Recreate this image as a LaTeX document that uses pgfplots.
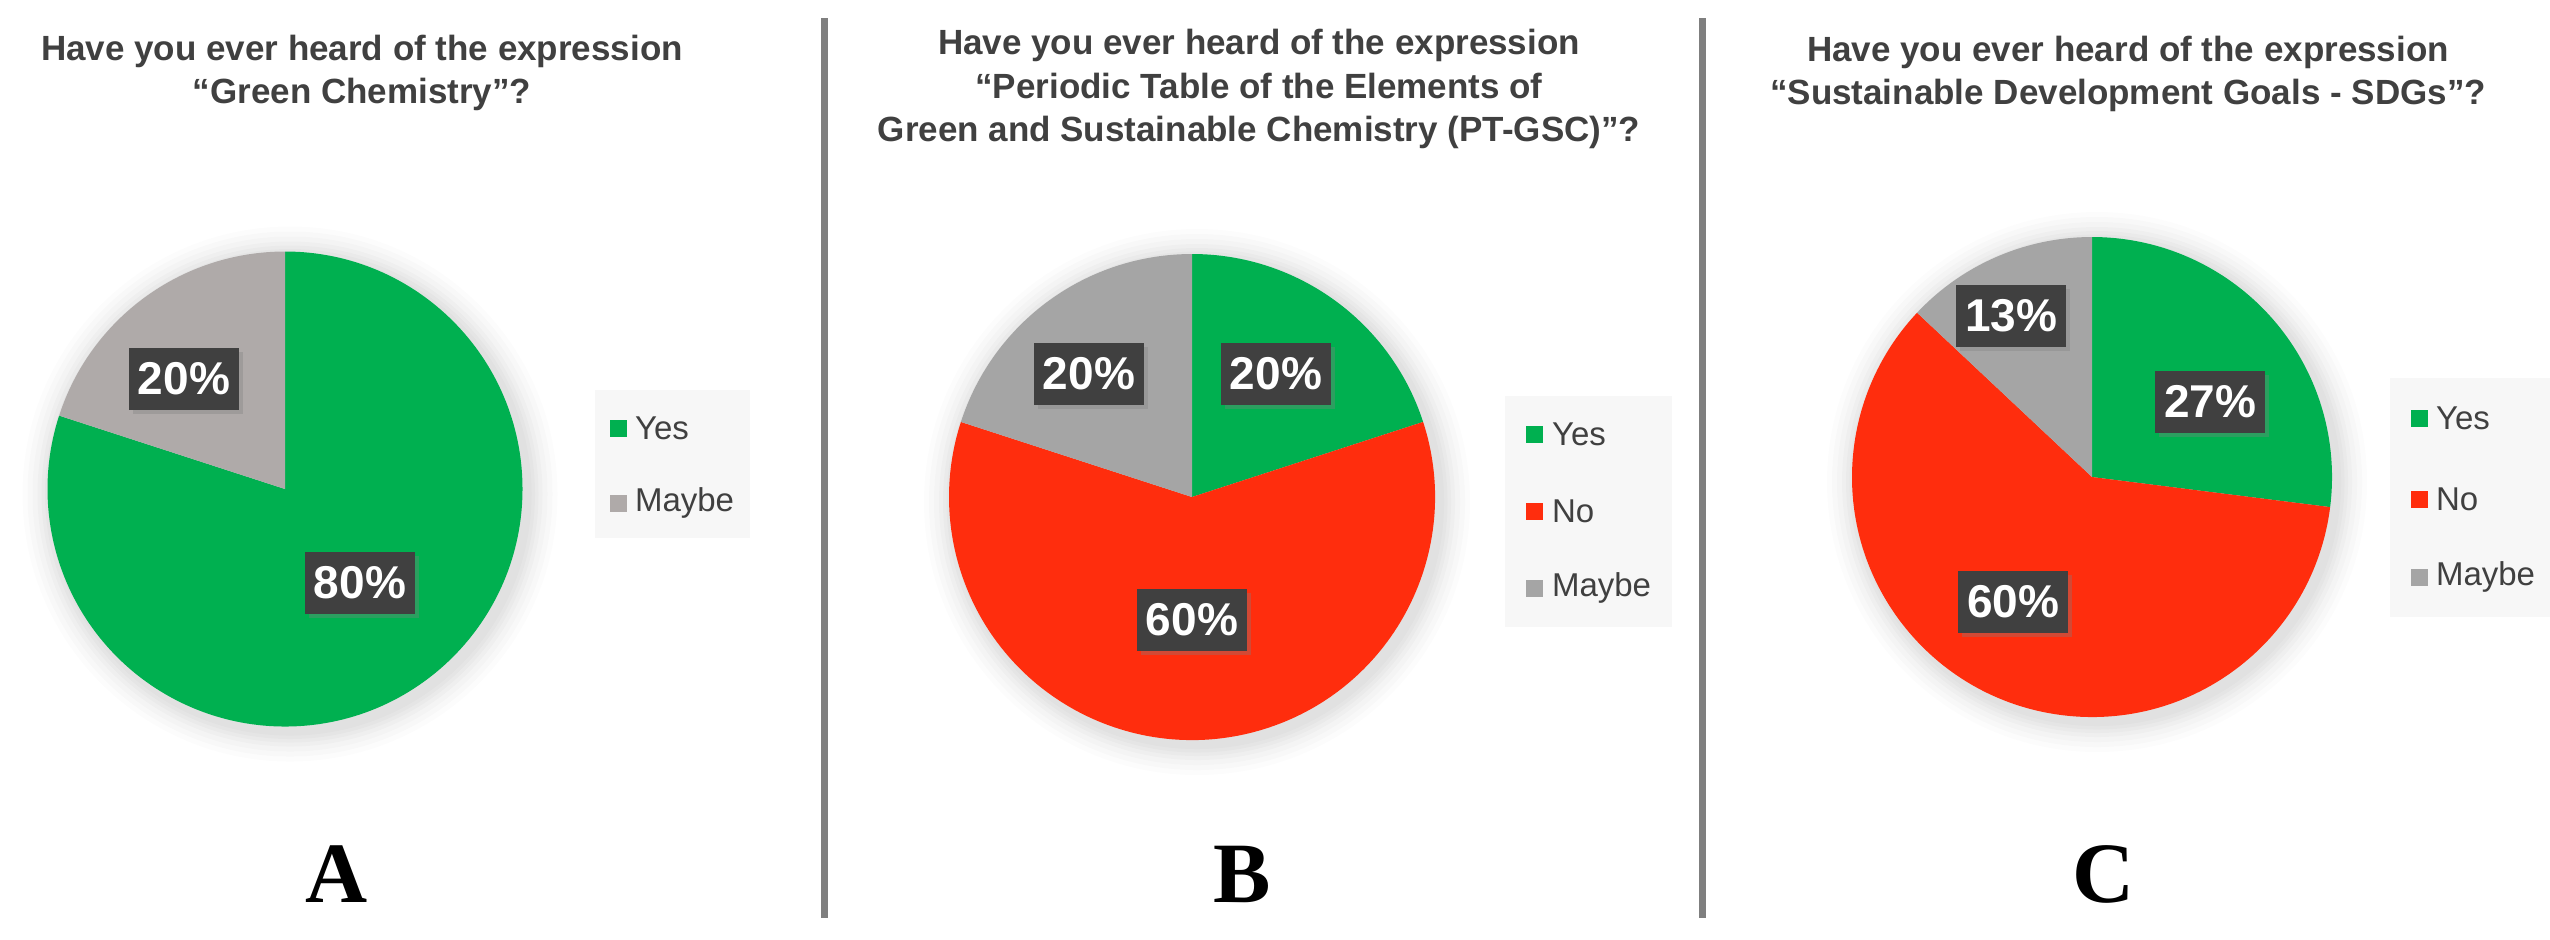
\documentclass[border=0pt]{standalone}
\usepackage{pgfplots}
\pgfplotsset{compat=1.18}
\usetikzlibrary{shadows}
\usepackage{fontspec}
\setmainfont{Liberation Sans}
\newfontfamily\serifbold{Liberation Serif}

\definecolor{yesgreen}{HTML}{00B050}
\definecolor{nored}{HTML}{FF2D0D}
\definecolor{maybegrayA}{HTML}{AFAAA9}
\definecolor{maybegray}{HTML}{A5A5A5}
\definecolor{lblgray}{HTML}{404040}
\definecolor{txtgray}{HTML}{404040}
\definecolor{legbg}{HTML}{F7F7F7}
\definecolor{sepgray}{HTML}{7F7F7F}

% one wedge: centre x, centre y (px), radius, from %, to %, colour
\newcommand{\slice}[6]{%
  \fill[#6] (axis cs:#1,#2) -- ++({90-3.6*#4}:#3)
    arc[start angle={90-3.6*#4}, end angle={90-3.6*#5}, radius=#3] -- cycle;}
% soft shadow round a pie
\newcommand{\glow}[3]{%
  \fill[black, opacity=0.012] (axis cs:#1,#2) circle[radius={#3+6pt}];
  \fill[black, opacity=0.014] (axis cs:#1,#2) circle[radius={#3+5pt}];
  \fill[black, opacity=0.016] (axis cs:#1,#2) circle[radius={#3+4pt}];
  \fill[black, opacity=0.018] (axis cs:#1,#2) circle[radius={#3+3pt}];
  \fill[black, opacity=0.02] (axis cs:#1,#2) circle[radius={#3+2.2pt}];
  \fill[black, opacity=0.02] (axis cs:#1,#2) circle[radius={#3+1.5pt}];
  \fill[black, opacity=0.02] (axis cs:#1,#2) circle[radius={#3+0.8pt}];}
\newcommand{\lbl}[3]{%
  \node[pct] at (axis cs:#1,#2) {#3\%};}
\newcommand{\legitem}[5]{% square x, text x, y, colour, text
  \node[sq, fill=#4] at (axis cs:#1,#3) {};
  \node[legtxt] at (axis cs:#2,#3) {#5};}

\begin{document}
\begin{tikzpicture}[
  pct/.style={fill=lblgray, text=white, font=\fontsize{9.2pt}{10pt}\selectfont\bfseries,
    minimum width=22pt, minimum height=12.4pt, inner sep=0pt,
    drop shadow={shadow xshift=0.7pt, shadow yshift=-0.7pt, opacity=0.35}},
  sq/.style={minimum size=3.4pt, inner sep=0pt},
  legtxt/.style={anchor=west, inner sep=0pt, text=txtgray, font=\fontsize{6.6pt}{7pt}\selectfont},
  ttl/.style={align=center, text=txtgray, font=\fontsize{7pt}{8.7pt}\selectfont\bfseries},
  letter/.style={anchor=base, inner sep=0pt, font=\fontsize{17.2pt}{18pt}\selectfont\serifbold\bfseries}
]
\begin{axis}[
  width=510pt, height=187.8pt, scale only axis,
  xmin=0, xmax=2550, ymin=0, ymax=939, y dir=reverse,
  enlargelimits=false, hide axis, clip=false,
]
% page extent
\addplot[draw=none] coordinates {(0,0) (2550,939)};
% separators
\addplot[sepgray, line width=1.4pt] coordinates {(824,18) (824,918)};
\addplot[sepgray, line width=1.4pt] coordinates {(1702,18) (1702,918)};

% ---- A: Yes 80, Maybe 20
\glow{290}{494}{47.5pt}
\slice{285}{489}{47.5pt}{0}{80}{yesgreen}
\slice{285}{489}{47.5pt}{80}{100}{maybegrayA}
\lbl{184}{379}{20}
\lbl{360}{583}{80}
\fill[legbg] (axis cs:595,390) rectangle (axis cs:750,538);
\legitem{618}{634}{428}{yesgreen}{Yes}
\legitem{618}{634}{503}{maybegrayA}{Maybe}
\node[ttl] at (axis cs:362,73) {Have you ever heard of the expression\\``Green Chemistry''?};
\node[letter] at (axis cs:337,902) {A};

% ---- B: Yes 20, No 60, Maybe 20
\glow{1197}{502}{48.6pt}
\slice{1192}{497}{48.6pt}{0}{20}{yesgreen}
\slice{1192}{497}{48.6pt}{20}{80}{nored}
\slice{1192}{497}{48.6pt}{80}{100}{maybegray}
\lbl{1089}{374}{20}
\lbl{1276}{374}{20}
\lbl{1192}{620}{60}
\fill[legbg] (axis cs:1505,396) rectangle (axis cs:1672,627);
\legitem{1534}{1551}{434}{yesgreen}{Yes}
\legitem{1534}{1551}{511}{nored}{No}
\legitem{1534}{1551}{588}{maybegray}{Maybe}
\node[ttl] at (axis cs:1259,89) {Have you ever heard of the expression\\``Periodic Table of the Elements of\\Green and Sustainable Chemistry (PT-GSC)''?};
\node[letter] at (axis cs:1242,902) {B};

% ---- C: Yes 27, No 60, Maybe 13
\glow{2097}{482}{48pt}
\slice{2092}{477}{48pt}{0}{27}{yesgreen}
\slice{2092}{477}{48pt}{27}{87}{nored}
\slice{2092}{477}{48pt}{87}{100}{maybegray}
\lbl{2011}{316}{13}
\lbl{2210}{402}{27}
\lbl{2013}{602}{60}
\fill[legbg] (axis cs:2390,378) rectangle (axis cs:2550,617);
\legitem{2419}{2435}{418}{yesgreen}{Yes}
\legitem{2419}{2435}{499}{nored}{No}
\legitem{2419}{2435}{577}{maybegray}{Maybe}
\node[ttl] at (axis cs:2128,74) {Have you ever heard of the expression\\``Sustainable Development Goals - SDGs''?};
\node[letter] at (axis cs:2104,902) {C};
\end{axis}
\end{tikzpicture}
\end{document}
